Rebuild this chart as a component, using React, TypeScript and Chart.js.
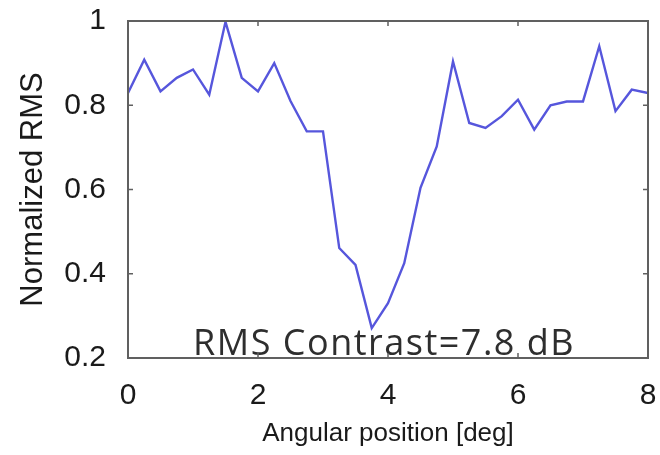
import { useEffect, useRef } from "react";
import { Chart, registerables } from "chart.js";

Chart.register(...registerables);

// ---- data ----
const angles = [
  0, 0.25, 0.5, 0.75, 1, 1.25, 1.5, 1.75, 2, 2.25, 2.5, 2.75, 3, 3.25, 3.5, 3.75,
  4, 4.25, 4.5, 4.75, 5, 5.25, 5.5, 5.75, 6, 6.25, 6.5, 6.75, 7, 7.25, 7.5, 7.75, 8,
];
const rmsValues = [
  0.829, 0.908, 0.833, 0.865, 0.885, 0.825, 0.998, 0.865, 0.833, 0.9, 0.81, 0.738,
  0.738, 0.461, 0.421, 0.271, 0.33, 0.425, 0.604, 0.702, 0.904, 0.758, 0.746, 0.774,
  0.813, 0.742, 0.8, 0.809, 0.809, 0.94, 0.786, 0.837, 0.829,
];
const xTickValues = [0, 2, 4, 6, 8];
const yTickValues = [0.2, 0.4, 0.6, 0.8, 1];
const xTitle = "Angular position [deg]";
const yTitle = "Normalized RMS";
const noteText = "RMS Contrast=7.8 dB";
const noteAt = { x: 3.94, y: 0.207 };

const framePlugin = {
  id: "frame",
  afterDatasetsDraw(chart: any) {
    const { ctx, chartArea, scales } = chart;
    const { left, right, top, bottom } = chartArea;
    const xs = scales.x;
    const ys = scales.y;
    ctx.save();
    // annotation text
    ctx.fillStyle = "#2e2e2e";
    ctx.font = '36px "Open Sans"';
    (ctx as any).letterSpacing = "1.5px";
    ctx.textAlign = "center";
    ctx.textBaseline = "alphabetic";
    ctx.fillText(noteText, xs.getPixelForValue(noteAt.x), ys.getPixelForValue(noteAt.y));
    (ctx as any).letterSpacing = "0px";
    // box
    ctx.strokeStyle = "#606060";
    ctx.lineWidth = 2;
    ctx.strokeRect(left, top, right - left, bottom - top);
    // inward ticks
    ctx.lineWidth = 1.5;
    const t = 5;
    ctx.beginPath();
    xTickValues.forEach((v) => {
      const px = xs.getPixelForValue(v);
      ctx.moveTo(px, bottom);
      ctx.lineTo(px, bottom - t);
      ctx.moveTo(px, top);
      ctx.lineTo(px, top + t);
    });
    yTickValues.forEach((v) => {
      const py = ys.getPixelForValue(v);
      ctx.moveTo(left, py);
      ctx.lineTo(left + t, py);
      ctx.moveTo(right, py);
      ctx.lineTo(right - t, py);
    });
    ctx.stroke();
    ctx.restore();
  },
};

const zeroPad = (s: any) => {
  s.paddingTop = 0;
  s.paddingBottom = 0;
  s.paddingLeft = 0;
  s.paddingRight = 0;
};

export default function App() {
  const canvasRef = useRef<HTMLCanvasElement | null>(null);

  useEffect(() => {
    document.body.style.margin = "0";
    const canvas = canvasRef.current;
    if (!canvas) return;
    const chart = new Chart(canvas, {
      type: "line",
      data: {
        datasets: [
          {
            data: angles.map((a, i) => ({ x: a, y: rmsValues[i] })),
            borderColor: "#5656dc",
            borderWidth: 2.4,
            pointRadius: 0,
            tension: 0,
            fill: false,
          },
        ],
      },
      options: {
        animation: false,
        responsive: true,
        maintainAspectRatio: false,
        layout: { padding: { top: 21, right: 12, left: 0, bottom: 0 } },
        plugins: { legend: { display: false }, tooltip: { enabled: false } },
        scales: {
          x: {
            type: "linear",
            min: 0,
            max: 8,
            afterFit: (s: any) => {
              s.height = 97;
              zeroPad(s);
            },
            afterBuildTicks: (s: any) => {
              s.ticks = xTickValues.map((v) => ({ value: v }));
            },
            grid: { display: false },
            border: { display: false },
            ticks: {
              color: "#1a1a1a",
              font: { family: '"Liberation Sans", Arial, sans-serif', size: 30 },
              padding: 12,
              maxRotation: 0,
            },
            title: {
              display: true,
              text: xTitle,
              color: "#1a1a1a",
              font: { family: '"Liberation Sans", Arial, sans-serif', size: 26 },
              padding: { top: 0, bottom: 6 },
            },
          },
          y: {
            type: "linear",
            min: 0.2,
            max: 1,
            afterFit: (s: any) => {
              s.width = 128;
              zeroPad(s);
            },
            afterBuildTicks: (s: any) => {
              s.ticks = yTickValues.map((v) => ({ value: v }));
            },
            grid: { display: false },
            border: { display: false },
            ticks: {
              color: "#1a1a1a",
              font: { family: '"Liberation Sans", Arial, sans-serif', size: 30 },
              padding: 14,
              callback: (v: any) => String(Math.round(Number(v) * 10) / 10),
            },
            title: {
              display: true,
              text: yTitle,
              color: "#1a1a1a",
              font: { family: '"Liberation Sans", Arial, sans-serif', size: 31 },
              padding: { top: 15, bottom: 0 },
            },
          },
        },
      },
      plugins: [framePlugin],
    });
    return () => chart.destroy();
  }, []);

  return (
    <div style={{ width: 660, height: 455, position: "relative", background: "#fff" }}>
      <canvas ref={canvasRef} />
    </div>
  );
}
